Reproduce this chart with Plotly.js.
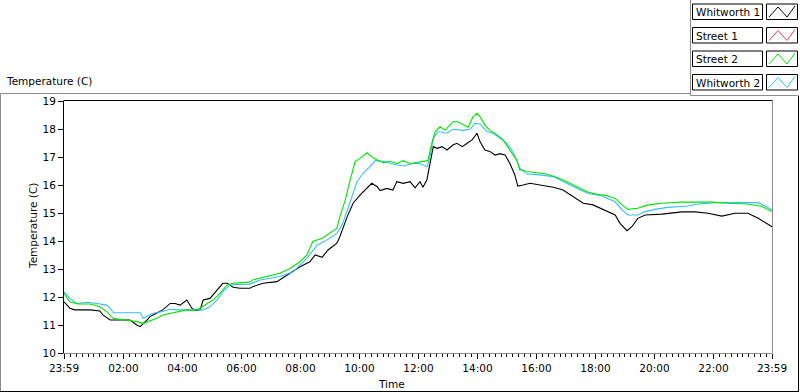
<!DOCTYPE html>
<html>
<head>
<meta charset="utf-8">
<script src="https://cdn.plot.ly/plotly-3.0.1.min.js"></script>
<style>
html,body{margin:0;padding:0;background:#fff;}
#chart{width:800px;height:392px;}
</style>
</head>
<body>
<div id="chart"></div>
<script>
// ---- data (minutes elapsed since 23:59 start, temperature in C) ----
const seriesNames = ["Whitworth 1", "Street 1", "Street 2", "Whitworth 2"];
const seriesColors = ["#000000", "#ff3b3b", "#00e400", "#36bcff"];

const whit1Time = [0,12,22,53,73,79,94,134,148,155,169,175,189,201,216,226,236,250,260,266,277,283,297,311,323,332,344,358,378,384,405,433,454,480,500,511,525,537,555,561,576,588,602,616,626,637,643,657,669,677,690,704,714,724,730,738,744,751,759,769,779,791,799,810,820,830,840,846,856,866,877,887,897,907,917,923,934,948,968,995,1015,1035,1056,1076,1090,1106,1121,1131,1145,1155,1167,1182,1216,1257,1283,1310,1338,1365,1391,1412,1440];
const whit1Temp = [11.83,11.6,11.54,11.54,11.5,11.36,11.18,11.18,11.0,10.94,11.18,11.3,11.43,11.54,11.77,11.77,11.71,11.89,11.6,11.51,11.54,11.89,11.95,12.25,12.49,12.49,12.35,12.31,12.31,12.37,12.49,12.55,12.79,13.08,13.26,13.5,13.42,13.68,13.92,14.15,14.87,15.35,15.64,15.88,16.06,15.94,15.8,15.88,15.82,16.12,16.06,16.12,15.9,16.12,15.92,16.18,16.71,17.37,17.31,17.37,17.25,17.43,17.49,17.37,17.49,17.61,17.85,17.55,17.25,17.2,17.07,17.12,17.07,16.77,16.36,15.96,16.0,16.06,16.0,15.92,15.82,15.58,15.35,15.29,15.17,15.05,14.93,14.63,14.37,14.51,14.81,14.93,14.96,15.04,15.04,14.99,14.89,14.99,14.99,14.81,14.51];

const street1Time = [];
const street1Temp = [];

const street2Time = [0,12,28,53,73,87,100,128,148,161,175,189,201,222,250,262,277,291,303,317,332,344,358,378,384,413,439,460,480,494,506,525,541,555,561,572,582,592,602,616,626,637,649,663,677,690,704,724,740,748,755,765,775,785,791,801,812,822,832,840,846,856,866,881,893,907,921,927,942,962,982,1003,1023,1043,1064,1090,1100,1121,1135,1147,1167,1188,1216,1257,1318,1351,1391,1420,1440];
const street2Temp = [12.13,11.83,11.75,11.75,11.65,11.48,11.24,11.18,11.12,11.06,11.15,11.24,11.36,11.44,11.54,11.51,11.6,11.77,11.89,12.13,12.43,12.49,12.51,12.53,12.61,12.73,12.85,13.02,13.26,13.5,13.98,14.1,14.27,14.45,14.87,15.46,16.18,16.83,16.95,17.15,17.01,16.89,16.8,16.85,16.77,16.87,16.77,16.83,16.87,17.49,17.91,18.08,17.96,18.14,18.26,18.26,18.14,18.06,18.44,18.56,18.44,18.14,17.96,17.79,17.61,17.25,16.89,16.54,16.48,16.44,16.39,16.27,16.12,15.94,15.76,15.64,15.64,15.52,15.29,15.13,15.17,15.29,15.35,15.39,15.39,15.35,15.32,15.23,15.05];

const whit2Time = [0,12,26,47,67,87,94,100,134,155,161,169,181,201,216,230,250,271,283,297,311,323,338,358,378,399,439,466,494,515,535,555,567,582,596,608,622,633,649,669,690,710,724,738,744,751,761,779,791,812,826,836,846,860,873,887,901,913,927,942,968,995,1023,1050,1070,1090,1100,1121,1135,1147,1167,1182,1202,1228,1269,1290,1324,1365,1412,1426,1440];
const whit2Temp = [12.19,11.95,11.77,11.81,11.77,11.71,11.6,11.44,11.44,11.44,11.24,11.32,11.42,11.48,11.56,11.54,11.54,11.54,11.54,11.65,11.89,12.19,12.43,12.45,12.46,12.61,12.73,12.9,13.38,13.86,14.04,14.27,14.63,15.4,16.12,16.42,16.65,16.87,16.85,16.75,16.68,16.77,16.77,16.65,16.95,17.67,17.91,17.85,17.99,17.95,17.99,18.2,18.18,17.91,17.85,17.67,17.49,17.2,16.6,16.39,16.36,16.3,16.06,15.82,15.68,15.64,15.56,15.4,15.11,14.93,14.93,15.05,15.13,15.2,15.25,15.32,15.37,15.37,15.37,15.25,15.11];

const xTickVals = [0,121,241,361,481,601,721,841,961,1081,1201,1321,1440];
const xTickText = ["23:59","02:00","04:00","06:00","08:00","10:00","12:00","14:00","16:00","18:00","20:00","22:00","23:59"];
const yTickVals = [10,11,12,13,14,15,16,17,18,19];

// ---- layout helpers (pixel -> paper) ----
const L = 64, R = 772, T = 101, B = 353;
const px = v => (v - L) / (R - L);
const py = v => (B - v) / (B - T);
const FONT = "DejaVu Sans, Tahoma, sans-serif";
const FS = 10;

const xs = [whit1Time, street1Time, street2Time, whit2Time];
const ys = [whit1Temp, street1Temp, street2Temp, whit2Temp];
const order = [0, 1, 3, 2];
const traces = order.map(i => ({
  x: xs[i], y: ys[i], name: seriesNames[i], type: "scatter", mode: "lines",
  line: {color: seriesColors[i], width: 1.1}, showlegend: false, hoverinfo: "skip"
}));

const shapes = [];
const annotations = [];
function line(x0, y0, x1, y1, color) {
  shapes.push({type: "line", xref: "paper", yref: "paper",
    x0: px(x0), y0: py(y0), x1: px(x1), y1: py(y1),
    line: {color: color, width: 1}, layer: "above"});
}
// outer panel borders
line(0.5, 93.5, 690.5, 93.5, "#8c8c8c");
line(690.5, 0, 690.5, 95.5, "#8c8c8c");
line(690.5, 95.5, 797.5, 95.5, "#8c8c8c");
line(0.5, 93.5, 0.5, 391.5, "#8c8c8c");
line(0, 391.5, 798, 391.5, "#000000");
line(798.5, 95.5, 798.5, 392, "#000000");
// plot frame
line(63.5, 100.5, 772.5, 100.5, "#000000");
line(772.5, 100.5, 772.5, 353.5, "#8c8c8c");

// legend boxes
const boxTop = [4, 27.5, 51, 74.5];
const boxH = 15.5;
seriesNames.forEach((name, i) => {
  const t = boxTop[i], b = t + boxH;
  shapes.push({type: "rect", xref: "paper", yref: "paper",
    x0: px(692.5), x1: px(762.5), y0: py(b), y1: py(t),
    line: {color: "#000", width: 1}, fillcolor: "#fff", layer: "above"});
  shapes.push({type: "rect", xref: "paper", yref: "paper",
    x0: px(766.5), x1: px(797.5), y0: py(b), y1: py(t),
    line: {color: "#000", width: 1}, fillcolor: "#fff", layer: "above"});
  const gx = [769, 778, 787, 795], gy = [b - 2.5, t + 3, b - 2.5, t + 2];
  let path = "M" + gx.map((g, k) => px(g) + "," + py(gy[k])).join(" L");
  shapes.push({type: "path", xref: "paper", yref: "paper", path: path,
    line: {color: seriesColors[i], width: 1}, layer: "above"});
  annotations.push({xref: "paper", yref: "paper", x: px(694), y: py(t + boxH / 2 + 0.5),
    xanchor: "left", yanchor: "middle", showarrow: false, text: name,
    font: {family: FONT, size: FS + 0.5, color: "#000"}});
});

// titles
annotations.push({xref: "paper", yref: "paper", x: px(4), y: py(81), xanchor: "left", yanchor: "middle",
  showarrow: false, text: "Temperature (C)", font: {family: FONT, size: FS + 0.5, color: "#000"}});
annotations.push({xref: "paper", yref: "paper", x: px(33), y: py(226), xanchor: "center", yanchor: "middle",
  textangle: -90, showarrow: false, text: "Temperature (C)", font: {family: FONT, size: FS + 0.5, color: "#1a0a0a"}});
annotations.push({xref: "paper", yref: "paper", x: px(391), y: py(384), xanchor: "center", yanchor: "middle",
  showarrow: false, text: "Time", font: {family: FONT, size: FS + 0.5, color: "#000"}});

const layout = {
  width: 800, height: 392,
  margin: {l: L, r: 800 - R, t: T, b: 392 - B, pad: 0},
  paper_bgcolor: "#fff", plot_bgcolor: "#fff",
  showlegend: false,
  font: {family: FONT, size: FS, color: "#000"},
  xaxis: {
    range: [0, 1440], tickmode: "array", tickvals: xTickVals, ticktext: xTickText,
    ticks: "outside", ticklen: 5, tickcolor: "#000", tickwidth: 1,
    showgrid: false, zeroline: false, showline: true, linecolor: "#8c8c8c", linewidth: 1,
    tickfont: {family: FONT, size: FS + 0.5, color: "#000"},
    minor: {tickmode: "linear", tick0: 1, dtick: 12, ticks: "outside", ticklen: 3, tickcolor: "#000", showgrid: false}
  },
  yaxis: {
    range: [10, 19], tickmode: "array", tickvals: yTickVals,
    ticks: "outside", ticklen: 5, tickcolor: "#000", tickwidth: 1,
    showgrid: false, zeroline: false, showline: true, linecolor: "#000", linewidth: 1,
    tickfont: {family: FONT, size: FS + 0.5, color: "#000"}
  },
  shapes: shapes,
  annotations: annotations
};

Plotly.newPlot("chart", traces, layout, {staticPlot: true, displayModeBar: false});
</script>
</body>
</html>
